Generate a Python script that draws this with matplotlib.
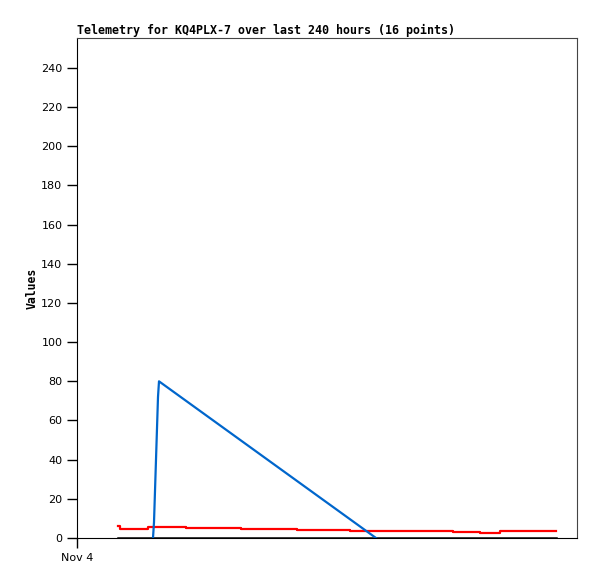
import numpy as np
import matplotlib
matplotlib.use("Agg")
import matplotlib.pyplot as plt

# x in hours since Nov 4 00:00
red_x = [4.1, 4.3, 7.1, 10.9, 16.4, 22.0, 27.3, 37.6, 40.3, 42.3, 47.9]
red_y = [6.1, 4.8, 5.8, 5.3, 4.6, 4.1, 3.6, 3.1, 2.6, 3.6, 3.6]
blue_x = [7.6, 7.7, 7.8, 7.9, 8.0, 8.1, 8.2, 29.9]
blue_y = [0, 8, 24, 40, 56, 72, 80, 0]
black_x = [4.1, 47.9]
black_y = [0, 0]

fig = plt.figure(figsize=(5.97, 5.79), dpi=100)
ax = fig.add_axes([77/597, 41/579, 500/597, 500/579])

ax.plot(black_x, black_y, color="black", lw=1.8)
ax.plot(red_x, red_y, color="#ff0000", lw=1.6, drawstyle="steps-post")
ax.plot(blue_x, blue_y, color="#0066cc", lw=1.6)

ax.set_xlim(0, 50)
ax.set_ylim(0, 255.3)
ax.set_yticks(np.arange(0, 241, 20))
ax.set_xticks([0])
ax.set_xticklabels(["Nov 4"])
ax.tick_params(direction="out", length=7, width=1, labelsize=8)
for s in ["top", "right"]:
    ax.spines[s].set_color("#444444")

ax.set_ylabel("Values", fontfamily="DejaVu Sans Mono", fontweight="bold", fontsize=8.3, labelpad=2)
ax.set_title("Telemetry for KQ4PLX-7 over last 240 hours (16 points)", loc="left",
             fontfamily="DejaVu Sans Mono", fontweight="bold", fontsize=8.35, pad=3)

fig.savefig("out.png", dpi=100)
